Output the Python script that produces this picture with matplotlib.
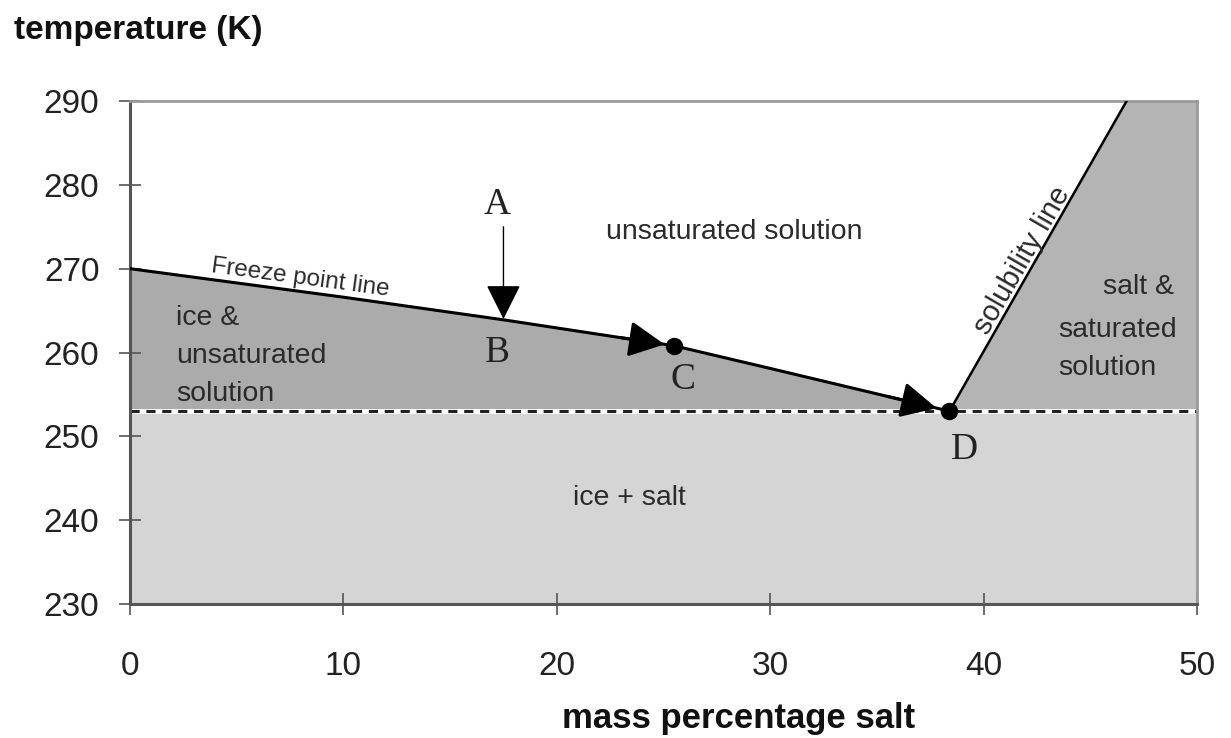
import numpy as np
import matplotlib.pyplot as plt

# phase diagram values
freeze_x = [0, 10, 17.5, 25.5, 30, 38.4]
freeze_t = [270, 266.6, 263.9, 260.8, 258.1, 253.0]
sol_x = [38.4, 46.7]
sol_t = [253.0, 290.0]
eutectic_t = 253.0
x_ticks = [0, 10, 20, 30, 40, 50]
y_ticks = [230, 240, 250, 260, 270, 280, 290]

# path points (A -> B straight down, then along the freeze line to C and D)
point_a = (17.5, 275.0)
point_b = (17.5, 264.0)
point_c = (25.5, 260.8)
point_d = (38.4, 253.0)
arrow_c = [(23.0, 261.77), (25.05, 260.97)]
arrow_d = [(35.5, 254.76), (37.8, 253.36)]

plt.rcParams["font.family"] = ["Liberation Sans", "DejaVu Sans"]

fig = plt.figure(figsize=(12.31, 7.38), dpi=100)
ax = fig.add_axes([0.1056, 0.1816, 0.8668, 0.6815])
ax.set_xlim(0, 50)
ax.set_ylim(230, 290)

dark = "#ababab"
mid = "#b4b4b4"
light = "#d5d5d5"

# regions
ax.axhspan(230, eutectic_t, color=light, lw=0, zorder=0)
ax.fill_between(freeze_x, freeze_t, eutectic_t, color=dark, lw=0, zorder=0)
ax.fill_between(list(sol_x) + [50], list(sol_t) + [290], eutectic_t,
                color=mid, lw=0, zorder=0)

# lines
ax.plot(freeze_x, freeze_t, color="black", lw=2.2, zorder=3)
ax.plot(sol_x, sol_t, color="black", lw=1.8, zorder=3)
ax.axhline(eutectic_t, color="white", lw=3.5, zorder=2)
ax.axhline(eutectic_t, color="#222222", lw=2.2, ls=(0, (3, 2.2)), zorder=2)

# markers
ax.plot(*point_c, "o", color="black", ms=11.5, zorder=5)
ax.plot(*point_d, "o", color="black", ms=11.5, zorder=5)

# arrows
head = "-|>,head_length=22,head_width=11"
ax.annotate("", xy=point_b, xytext=point_a,
            arrowprops=dict(arrowstyle=head, mutation_scale=1, color="black",
                            lw=1.0, shrinkA=0, shrinkB=0), zorder=4)
for start, tip in [arrow_c, arrow_d]:
    ax.annotate("", xy=tip, xytext=start,
                arrowprops=dict(arrowstyle=head, mutation_scale=1, color="black",
                                lw=2.2, shrinkA=0, shrinkB=0), zorder=4)

# point letters
serif = "Liberation Serif"
for lbl, x, y in [("A", 17.2, 277.6), ("B", 17.2, 260.0),
                  ("C", 25.9, 256.7), ("D", 39.1, 248.4)]:
    ax.text(x, y, lbl, family=serif, fontsize=27, ha="center", va="center",
            color="#222222")

# region labels
txt = "#2a2a2a"
ax.text(28.3, 274.4, "unsaturated solution", fontsize=20.5, ha="center",
        va="center", color=txt)
ax.text(23.4, 242.7, "ice + salt", fontsize=20.5, ha="center", va="center", color=txt)
ax.text(2.15, 259.6, "ice &\nunsaturated\nsolution", fontsize=20.5, ha="left",
        va="center", linespacing=1.6, color=txt)
ax.text(45.6, 267.8, "salt &", fontsize=20.5, ha="left", va="center", color=txt)
ax.text(43.5, 260.4, "saturated\nsolution", fontsize=20.5, ha="left", va="center",
        linespacing=1.6, color=txt)
ax.text(8.0, 268.9, "Freeze point line", fontsize=17.5, ha="center", va="center",
        rotation=-7.6, color=txt)
ax.text(41.8, 271.0, "solubility line", fontsize=21, ha="center", va="center",
        rotation=60, color=txt)

# axes styling
ax.set_xticks(x_ticks)
ax.set_yticks(y_ticks)
ax.tick_params(direction="inout", length=16, width=1.2, color="#555555")
ax.tick_params(axis="x", pad=26)
ax.tick_params(axis="y", pad=14)
for lab in ax.get_xticklabels() + ax.get_yticklabels():
    lab.set_fontsize(24)
    lab.set_color("#222222")
for side in ["left", "bottom"]:
    ax.spines[side].set_color("#555555")
    ax.spines[side].set_linewidth(2.2)
for side in ["top", "right"]:
    ax.spines[side].set_color("#9a9a9a")
    ax.spines[side].set_linewidth(2.0)

fig.text(0.011, 0.959, "temperature (K)", fontsize=24, fontweight="bold",
         ha="left", va="center", color="#111111")
fig.text(0.6, 0.027, "mass percentage salt", fontsize=25,
         fontweight="bold", ha="center", va="center", color="#111111")

fig.savefig("out.png", dpi=100)
